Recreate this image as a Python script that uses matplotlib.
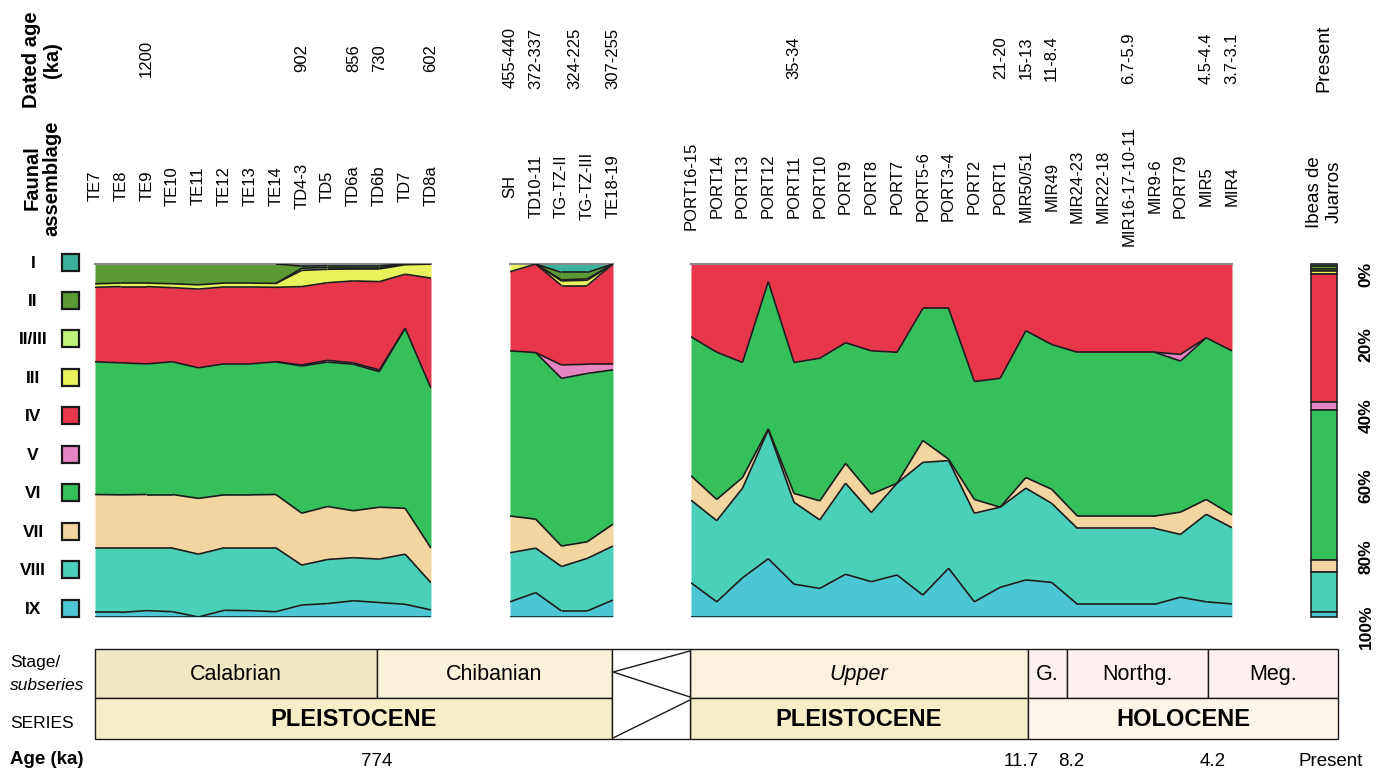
import numpy as np
import matplotlib
matplotlib.use('Agg')
import matplotlib.pyplot as plt
from matplotlib.patches import Rectangle
from matplotlib.collections import LineCollection
from matplotlib import transforms

plt.rcParams['font.family'] = ['Liberation Sans', 'DejaVu Sans']

# ---------------- data ----------------
groups = ['I', 'II', 'II/III', 'III', 'IV', 'V', 'VI', 'VII', 'VIII', 'IX']
group_colors = ['#3bb39a', '#5b9a35', '#bef27a', '#e8f25a', '#e8374a',
                '#e586c2', '#35c05c', '#f2d5a0', '#4acfb8', '#4cc6d2']

# Atapuerca TE / TD sequence
atap_samples = ['TE7', 'TE8', 'TE9', 'TE10', 'TE11', 'TE12', 'TE13', 'TE14',
                'TD4-3', 'TD5', 'TD6a', 'TD6b', 'TD7', 'TD8a']
atap_ages = ['', '', '1200', '', '', '', '', '', '902', '', '856', '730', '', '602']
atap = {
    'I':      [0, 0, 0, 0, 0, 0, 0, 0, 0.6, 0.5, 0.5, 0.5, 0, 0],
    'II':     [5.6, 5.4, 5.4, 5.6, 5.9, 5.4, 5.4, 5.5, 0.6, 0.5, 0.5, 0.5, 0, 0],
    'II/III': [0, 0, 0, 0, 0, 0, 0, 0, 0.6, 0.5, 0.4, 0.4, 0.2, 0],
    'III':    [1.0, 1.0, 1.0, 1.1, 1.2, 1.1, 1.1, 1.1, 4.6, 3.8, 3.4, 3.6, 2.7, 4.0],
    'IV':     [21.1, 21.6, 21.9, 21.0, 22.3, 21.8, 21.8, 21.1, 22.2, 22.0, 23.2, 25.0, 15.3, 31.2],
    'V':      [0, 0, 0, 0, 0, 0, 0, 0, 0.3, 0.5, 0.4, 0.5, 0, 0],
    'VI':     [37.6, 37.4, 37.0, 37.6, 37.0, 37.1, 37.1, 37.6, 41.7, 40.9, 41.5, 38.4, 51.0, 45.3],
    'VII':    [15.2, 15.1, 15.2, 15.2, 15.8, 15.0, 15.0, 15.1, 14.7, 15.0, 13.3, 14.7, 13.0, 9.8],
    'VIII':   [18.2, 18.2, 17.7, 18.0, 17.8, 17.7, 17.8, 18.1, 11.3, 12.5, 12.2, 12.3, 14.2, 7.7],
    'IX':     [1.3, 1.3, 1.8, 1.5, 0.0, 1.9, 1.8, 1.5, 3.4, 3.8, 4.6, 4.1, 3.6, 2.0],
}

# Middle Pleistocene sites
mid_samples = ['SH', 'TD10-11', 'TG-TZ-II', 'TG-TZ-III', 'TE18-19']
mid_ages = ['455-440', '372-337', '324-225', '', '307-255']
mid_age_shift = [0, 0, 0.5, 0, 0]
mid = {
    'I':      [0, 0, 2.4, 2.4, 0],
    'II':     [0, 0, 2.1, 1.8, 0],
    'II/III': [0, 0, 0.3, 0.4, 0],
    'III':    [2.2, 0, 1.3, 1.5, 0],
    'IV':     [22.4, 25.1, 22.5, 22.3, 28.4],
    'V':      [0, 0, 3.8, 2.6, 1.6],
    'VI':     [46.8, 47.2, 47.5, 47.7, 43.7],
    'VII':    [10.4, 8.2, 5.8, 4.7, 6.2],
    'VIII':   [13.9, 12.6, 12.6, 14.9, 15.3],
    'IX':     [4.3, 6.9, 1.7, 1.7, 4.8],
}

# Portalón / El Mirador
port_samples = ['PORT16-15', 'PORT14', 'PORT13', 'PORT12', 'PORT11', 'PORT10', 'PORT9',
                'PORT8', 'PORT7', 'PORT5-6', 'PORT3-4', 'PORT2', 'PORT1', 'MIR50/51',
                'MIR49', 'MIR24-23', 'MIR22-18', 'MIR16-17-10-11', 'MIR9-6', 'PORT79',
                'MIR5', 'MIR4']
port_ages = ['', '', '', '', '35-34', '', '', '', '', '', '', '', '21-20', '15-13',
             '11-8.4', '', '', '6.7-5.9', '', '', '4.5-4.4', '3.7-3.1']
port = {
    'IV':   [20.6, 25.0, 27.9, 5.0, 27.9, 26.7, 22.3, 24.6, 25.0, 12.6, 12.6, 33.3,
             32.4, 18.9, 22.8, 25.0, 25.0, 25.0, 25.0, 25.6, 20.9, 24.6],
    'V':    [0, 0, 0, 0, 0, 0, 0, 0, 0, 0, 0, 0, 0, 0, 0, 0, 0, 0, 0, 1.9, 0, 0],
    'VI':   [39.4, 41.7, 32.6, 41.7, 37.1, 40.4, 34.2, 40.6, 37.1, 37.4, 42.7, 33.4,
             36.5, 41.6, 41.0, 46.4, 46.4, 46.4, 46.4, 42.8, 45.8, 46.5],
    'VII':  [6.9, 6.0, 3.0, 0.3, 2.5, 5.4, 5.6, 5.2, 0, 6.2, 0.4, 3.9, 0, 3.0, 4.0,
             3.5, 3.5, 3.5, 3.5, 6.3, 4.2, 3.6],
    'VIII': [23.4, 23.0, 25.4, 36.5, 23.2, 19.4, 25.8, 19.6, 26.0, 37.6, 30.5, 25.1,
             22.7, 26.0, 22.4, 21.5, 21.5, 21.5, 21.5, 17.8, 24.8, 21.6],
    'IX':   [9.7, 4.3, 11.1, 16.5, 9.3, 8.1, 12.1, 10.0, 11.9, 6.2, 13.8, 4.3, 8.4,
             10.5, 9.8, 3.6, 3.6, 3.6, 3.6, 5.6, 4.3, 3.7],
}

# Present-day Ibeas de Juarros
ibeas_label = 'Ibeas de\nJuarros'
ibeas_age = 'Present'
ibeas = [0.6, 0.8, 0.6, 0.8, 36.3, 2.2, 42.6, 3.4, 11.4, 1.3]

pct_ticks = [0, 20, 40, 60, 80, 100]

# chronostratigraphy table
stage_cells = [('Calabrian', 95, 377, '#f0e8c2', 'normal'),
               ('Chibanian', 377, 612, '#faf1db', 'normal'),
               ('Upper', 690, 1028, '#faf2dc', 'italic'),
               ('G.', 1028, 1067, '#fdf1ef', 'normal'),
               ('Northg.', 1067, 1208, '#fdf1ef', 'normal'),
               ('Meg.', 1208, 1338, '#fdf1ef', 'normal')]
series_cells = [('PLEISTOCENE', 95, 612, '#f6eec6'),
                ('PLEISTOCENE', 690, 1028, '#f6eec6'),
                ('HOLOCENE', 1028, 1338, '#fdf5ea')]
age_marks = [('774', 377), ('11.7', 1021), ('8.2', 1071), ('4.2', 1213), ('Present', 1331)]

# ---------------- layout ----------------
W, H = 1386, 769
fig = plt.figure(figsize=(W / 100, H / 100), dpi=100)
PT, PB = 264, 617  # panel top / bottom (px)


def px_axes(x0, x1):
    return fig.add_axes([x0 / W, 1 - PB / H, (x1 - x0) / W, (PB - PT) / H])


def draw_panel(ax, values):
    n = len(values['IV'])
    x = np.arange(n)
    data = np.array([values.get(g, [0] * n) for g in groups], dtype=float)
    data = data / data.sum(axis=0) * 100
    cum = np.cumsum(data, axis=0)
    top = np.vstack([np.zeros(n), cum[:-1]])
    for k in range(len(groups)):
        if data[k].max() > 0:
            ax.fill_between(x, top[k], cum[k], color=group_colors[k], lw=0, zorder=1)
    segs = []
    for k in range(len(groups)):
        for i in range(n - 1):
            if data[k, i] > 0 or data[k, i + 1] > 0:
                segs.append([(i, cum[k, i]), (i + 1, cum[k, i + 1])])
    ax.add_collection(LineCollection(segs, colors='#1c1c1c', linewidths=1.2, zorder=3))
    ax.set_xlim(0, n - 1)
    ax.set_ylim(100, 0)
    ax.set_xticks([])
    ax.set_yticks([])
    for s in ['left', 'right', 'bottom']:
        ax.spines[s].set_visible(False)
    ax.spines['top'].set_color('#8a8a8a')
    ax.spines['top'].set_linewidth(1.5)


def label_samples(ax, samples, ages, shifts=None):
    tr = transforms.blended_transform_factory(ax.transData, fig.transFigure)
    for i, s in enumerate(samples):
        ax.text(i, 1 - 186 / H, s, transform=tr, rotation=90, ha='center', va='center',
                fontsize=12, clip_on=False)
    for i, a in enumerate(ages):
        if a:
            xi = i + (shifts[i] if shifts else 0)
            ax.text(xi, 1 - 58 / H, a, transform=tr, rotation=90, ha='center', va='center',
                    fontsize=12, clip_on=False)


ax1 = px_axes(95, 431)
draw_panel(ax1, atap)
label_samples(ax1, atap_samples, atap_ages)

ax2 = px_axes(510, 613)
draw_panel(ax2, mid)
label_samples(ax2, mid_samples, mid_ages, mid_age_shift)

ax3 = px_axes(691, 1232)
draw_panel(ax3, port)
label_samples(ax3, port_samples, port_ages)

# Ibeas bar
ax4 = px_axes(1311, 1337)
bottoms = np.concatenate([[0], np.cumsum(ibeas)[:-1]])
ax4.bar(0, ibeas, bottom=bottoms, width=1, color=group_colors, edgecolor='#222222',
        linewidth=1.2, clip_on=False)
ax4.set_xlim(-0.5, 0.5)
ax4.set_ylim(100, 0)
ax4.axis('off')
tr4 = transforms.blended_transform_factory(ax4.transData, fig.transFigure)
ax4.text(0, 1 - 192 / H, ibeas_label, transform=tr4, rotation=90, ha='center', va='center',
         multialignment='center', fontsize=13.5, clip_on=False)
ax4.text(0, 1 - 58 / H, ibeas_age, transform=tr4, rotation=90, ha='center', va='center',
         fontsize=14, clip_on=False)
trp = transforms.offset_copy(transforms.blended_transform_factory(ax4.transAxes, ax4.transData),
                             fig=fig, x=29, y=-10, units='dots')
for p in pct_ticks:
    ax4.text(1.0, p, f'{p}%', transform=trp, rotation=90, ha='center', va='center',
             fontsize=12.5, fontweight='bold', clip_on=False)

# overlay in pixel coordinates for headers, legend and table
ax0 = fig.add_axes([0, 0, 1, 1], zorder=-1)
ax0.set_xlim(0, W)
ax0.set_ylim(H, 0)
ax0.axis('off')

ax0.text(42, 60, 'Dated age\n(ka)', rotation=90, ha='center', va='center',
         multialignment='center', fontsize=14.5, fontweight='bold', linespacing=1.1)
ax0.text(42, 178, 'Faunal\nassemblage', rotation=90, ha='center', va='center',
         multialignment='center', fontsize=14.5, fontweight='bold', linespacing=1.1)

# legend
ys = np.linspace(262, 608, len(groups))
for g, c, y in zip(groups, group_colors, ys):
    ax0.add_patch(Rectangle((62, y - 8.5), 17, 17, facecolor=c, edgecolor='#1a1a1a', lw=1.6))
    ax0.text(33, y + 1, g, ha='center', va='center', fontsize=12.5, fontweight='bold')

# table
T0, T1, T2 = 649, 698, 739
for name, x0, x1, col, style in stage_cells:
    ax0.add_patch(Rectangle((x0, T0), x1 - x0, T1 - T0, facecolor=col, edgecolor='#1a1a1a', lw=1))
    ax0.text((x0 + x1) / 2, (T0 + T1) / 2 + 1, name, ha='center', va='center',
             fontsize=15.5, fontstyle=style)
for name, x0, x1, col in series_cells:
    ax0.add_patch(Rectangle((x0, T1), x1 - x0, T2 - T1, facecolor=col, edgecolor='#1a1a1a', lw=1))
    ax0.text((x0 + x1) / 2, (T1 + T2) / 2 + 1, name, ha='center', va='center',
             fontsize=17, fontweight='bold')
ax0.add_patch(Rectangle((612, T0), 78, T2 - T0, facecolor='white', edgecolor='#1a1a1a', lw=1))
ax0.plot([690, 613, 690], [651, 672, 697], color='#1a1a1a', lw=1)
ax0.plot([690, 613], [700, 738], color='#1a1a1a', lw=1)

ax0.text(10, 663, 'Stage/', ha='left', va='center', fontsize=12.5)
ax0.text(10, 686, 'subseries', ha='left', va='center', fontsize=12.5, fontstyle='italic')
ax0.text(10, 723, 'SERIES', ha='left', va='center', fontsize=12.5)
ax0.text(10, 759, 'Age (ka)', ha='left', va='center', fontsize=13.5, fontweight='bold')
for lab, xpos in age_marks:
    ax0.text(xpos, 761, lab, ha='center', va='center', fontsize=13.5)

fig.savefig('out.png', dpi=100)
